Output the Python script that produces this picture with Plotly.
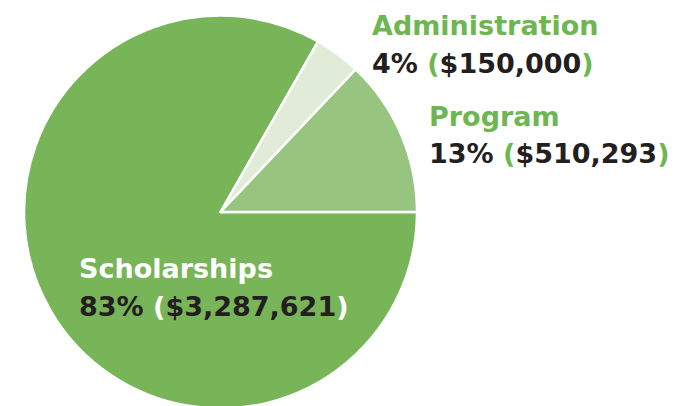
import plotly.graph_objects as go

# budget breakdown
categories = ["Scholarships", "Administration", "Program"]
amounts = [3287621, 150000, 510293]
percents = [83, 4, 13]

slice_colors = ["#78b458", "#e0ebd8", "#97c47e"]
label_colors = ["#ffffff", "#6db652", "#6db652"]
paren_colors = ["#ffffff", "#6db652", "#6db652"]
dark = "#231f20"

W, H = 679, 406

fig = go.Figure()
fig.add_trace(go.Pie(
    labels=categories,
    values=amounts,
    sort=False,
    direction="clockwise",
    rotation=90,
    textinfo="none",
    hoverinfo="label+percent",
    marker=dict(colors=slice_colors, line=dict(color="white", width=2.5)),
    domain=dict(x=[0.013, 0.613], y=[0.0135, 0.9815]),
    showlegend=False,
))

# label positions in pixels (left x, centre y of name, centre y of value)
label_pos = {
    "Scholarships": (69, 260, 298.5),
    "Administration": (362, 17.5, 55),
    "Program": (419, 109, 145),
}

font = "'DejaVu Sans', sans-serif"
for cat, amt, pct, lc, pc in zip(categories, amounts, percents, label_colors, paren_colors):
    x, y1, y2 = label_pos[cat]
    fig.add_annotation(
        x=x / W, y=1 - y1 / H, xref="paper", yref="paper",
        xanchor="left", yanchor="middle", showarrow=False,
        text=f"<b>{cat}</b>",
        font=dict(family=font, size=27, color=lc),
    )
    value_text = (f"<b>{pct}% <span style='color:{pc}'>(</span>${amt:,}"
                  f"<span style='color:{pc}'>)</span></b>")
    fig.add_annotation(
        x=x / W, y=1 - y2 / H, xref="paper", yref="paper",
        xanchor="left", yanchor="middle", showarrow=False,
        text=value_text,
        font=dict(family=font, size=27, color=dark),
    )

fig.update_layout(
    width=W, height=H,
    margin=dict(l=0, r=0, t=0, b=0),
    paper_bgcolor="white",
    plot_bgcolor="white",
)

fig.write_html("out.html")
